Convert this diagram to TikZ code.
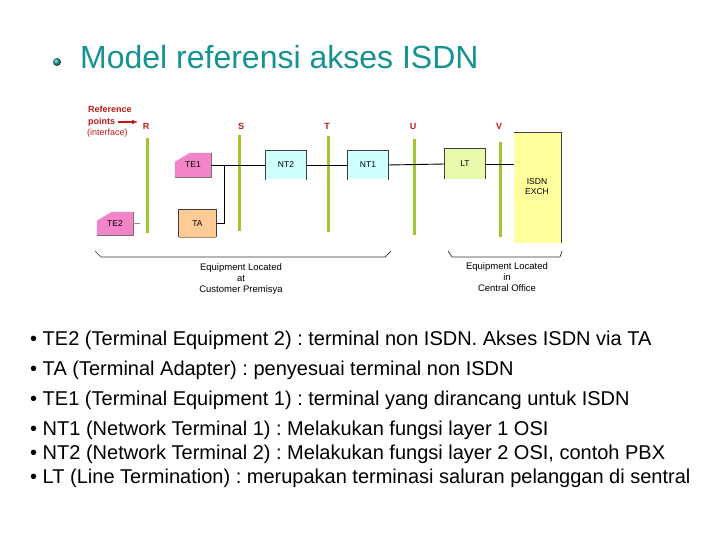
\documentclass[tikz,border=0pt]{standalone}
\usepackage{fontspec}
\setmainfont{Liberation Sans}
\usetikzlibrary{calc,backgrounds}
\definecolor{titlec}{RGB}{22,146,146}
\definecolor{refred}{RGB}{190,25,25}
\definecolor{barg}{RGB}{160,196,50}
\definecolor{pinkc}{RGB}{242,132,202}
\definecolor{cyanc}{RGB}{206,255,255}
\definecolor{ltc}{RGB}{232,250,172}
\definecolor{exchc}{RGB}{255,255,155}
\definecolor{tac}{RGB}{255,202,150}
\frenchspacing
\tikzset{
  boxn/.style={inner sep=0pt, font=\fontsize{8.5}{10}\selectfont},
  edge/.style={draw=black!75, line width=0.9pt},
  conn/.style={draw=black, line width=0.9pt},
  bar/.style={draw=barg, line width=3pt},
  refl/.style={text=refred, font=\fontsize{9}{10}\selectfont\bfseries, inner sep=0pt},
  bracel/.style={draw=black!80, line width=0.7pt},
  eqtext/.style={align=center, font=\fontsize{9.5}{11}\selectfont, inner sep=0pt},
  item/.style={anchor=base west, inner sep=0pt, font=\fontsize{20}{22}\selectfont}
}
\begin{document}
\begin{tikzpicture}[x=1pt,y=-1pt]
\useasboundingbox (0,0) rectangle (720,540);
% title
\shade[ball color=titlec] (57,62) circle (4);
\node[anchor=base west, inner sep=0pt, text=titlec, font=\fontsize{32}{34}\selectfont] (title) at (80,69) {Model referensi akses ISDN};

% reference points legend
\node[refl, anchor=base west] (reftxt) at (88,113) {Reference};
\node[refl, anchor=base west] (pts) at (88,125) {points};
\node[anchor=base west, inner sep=0pt, text=refred, font=\fontsize{9}{10}\selectfont] (intf) at (87,136) {(interface)};
\node[refl] (lR) at (146,126) {R};
\node[refl] (lS) at (241,126) {S};
\node[refl] (lT) at (327,126) {T};
\node[refl] (lU) at (413,126) {U};
\node[refl] (lV) at (499,126) {V};
\coordinate (arrs) at (118,122);
\coordinate (arre) at (138,122);
\draw[refred, line width=1.1pt, -latex] (arrs) -- (arre);

% reference bars
\draw[bar] (147,138) -- (147,233);
\draw[bar] (239,135) -- (239,231);
\draw[bar] (328,136) -- (328,232);
\draw[bar] (414,139) -- (414,235);
\draw[bar] (500,142) -- (500,237);

% boxes
\node[boxn, minimum width=36pt, minimum height=24pt] (te1) at (193,165) {TE1};
\node[boxn, minimum width=36pt, minimum height=23pt] (te2) at (115,223.5) {TE2};
\node[boxn, fill=tac, minimum width=37pt, minimum height=27pt] (ta) at (197.5,223.5) {TA};
\node[boxn, fill=cyanc, minimum width=40pt, minimum height=29pt] (nt2) at (286,165) {NT2};
\node[boxn, fill=cyanc, minimum width=40pt, minimum height=29pt] (nt1) at (368,165) {NT1};
\node[boxn, fill=ltc, minimum width=40pt, minimum height=30pt] (lt) at (465,164) {LT};
\node[boxn, fill=exchc, minimum width=47pt, minimum height=110pt] (exch) at (537.5,188) {};
\node[boxn, align=center] (exchl) at (537,187) {ISDN\\EXCH};

\begin{scope}[on background layer]
  \fill[pinkc] (te1.south west) -- ($(te1.north west)+(0,9)$) -- ($(te1.north west)+(15,0)$) -- (te1.north east) -- (te1.south east) -- cycle;
  \fill[pinkc] (te2.south west) -- ($(te2.north west)+(0,9)$) -- ($(te2.north west)+(15,0)$) -- (te2.north east) -- (te2.south east) -- cycle;
\end{scope}
\draw[draw=black!55, line width=0.9pt] (te1.north east) -- (te1.south east) -- (te1.south west);
\draw[draw=black!55, line width=0.9pt] (te2.north east) -- (te2.south east) -- (te2.south west);
\draw[edge] (ta.south west) -- (ta.north west) -- (ta.north east) -- (ta.south east);
\draw[draw=tac!70!black, line width=0.6pt] (ta.south west) -- (ta.south east);
\foreach \b in {nt2,nt1,lt}{
  \draw[edge] (\b.south west) -- (\b.north west) -- (\b.north east) -- (\b.south east);
}
\draw[edge] (exch.north west) -- (exch.north east) -- (exch.south east);

% connectors
\coordinate (j) at (224,165);
\coordinate (rb) at (140,223.5);
\draw[conn] (te1.east) -- (nt2.west);
\draw[conn] (ta.east) -| (j);
\draw[draw=black!45, line width=0.6pt] (te2.east) -- (rb);
\draw[conn] (nt2.east) -- (nt1.west);
\draw[conn] (nt1.east) -- (lt.west);
\draw[conn] (lt.east) -- (lt.east -| exch.west);

% braces
\draw[bracel] (95,251) -- (101,257) -- (385,257) -- (391,251);
\draw[bracel] (448,251) -- (452,257) -- (560,257) -- (562,251);
\node[eqtext] (eq1) at (241,279) {Equipment Located\\at\\Customer Premisya};
\node[eqtext] (eq2) at (507,277) {Equipment Located\\in\\Central Office};

% list
\node[item] (i1) at (30,345) {• TE2 (Terminal Equipment 2) : terminal non ISDN. Akses ISDN via TA};
\node[item] (i2) at (30,375) {• TA (Terminal Adapter) : penyesuai terminal non ISDN};
\node[item] (i3) at (30,405) {• TE1 (Terminal Equipment 1) : terminal yang dirancang untuk ISDN};
\node[item] (i4) at (30,435) {• NT1 (Network Terminal 1) : Melakukan fungsi layer 1 OSI};
\node[item] (i5) at (30,459) {• NT2 (Network Terminal 2) : Melakukan fungsi layer 2 OSI, contoh PBX};
\node[item] (i6) at (30,483) {• LT (Line Termination) : merupakan terminasi saluran pelanggan di sentral};
\end{tikzpicture}
\end{document}
